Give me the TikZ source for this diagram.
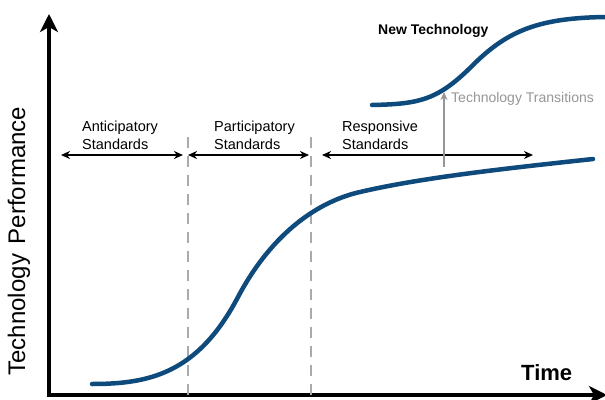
\documentclass[tikz,border=0pt]{standalone}
\usepackage{fontspec}
\setmainfont{Liberation Sans}
\usetikzlibrary{arrows.meta}
\definecolor{curveblue}{RGB}{14,74,124}
\definecolor{dashgray}{RGB}{170,170,170}
\definecolor{transgray}{RGB}{150,150,150}
\begin{document}
\begin{tikzpicture}[x=1pt,y=-1pt,
  axis/.style={line width=4.5pt, line join=miter, {Stealth[length=18pt,width=18pt,inset=5pt]}-{Stealth[length=18pt,width=18pt,inset=5pt]}},
  scurve/.style={curveblue, line width=4.5pt, line cap=round},
  divider/.style={dashgray, line width=2.2pt, dash pattern=on 11pt off 8pt},
  span/.style={line width=1.8pt, {Stealth[length=9pt,width=8pt]}-{Stealth[length=9pt,width=8pt]}},
  lbl/.style={font=\fontsize{14.5}{18}\selectfont, align=left, inner sep=0pt, anchor=west},
  trans/.style={transgray, line width=2pt, -{Stealth[length=8pt,width=7pt]}},
]
\useasboundingbox (0,0) rectangle (605,399);
\fill[white] (0,0) rectangle (605,399);
% axes
\coordinate (O) at (49,395);
\coordinate (ytop) at (49,14);
\coordinate (xend) at (607,395);
\draw[axis] (ytop) -- (O) -- (xend);
\node[rotate=90, font=\fontsize{24}{28}\selectfont, inner sep=0pt] (ylab) at (19,241) {Technology\hspace{10pt}Performance};
\node[font=\bfseries\fontsize{22}{26}\selectfont, inner sep=0pt, anchor=west] (time) at (521,373) {Time};
% dividers
\coordinate (d1t) at (188,137); \coordinate (d1b) at (188,395);
\coordinate (d2t) at (311,137); \coordinate (d2b) at (311,395);
\draw[divider] (d1t) -- (d1b);
\draw[divider] (d2t) -- (d2b);
% spans
\coordinate (a1) at (61,155); \coordinate (a2) at (183,155);
\coordinate (p1) at (188,155); \coordinate (p2) at (309,155);
\coordinate (r1) at (322,155); \coordinate (r2) at (533,155);
\draw[span] (a1) -- (a2);
\draw[span] (p1) -- (p2);
\draw[span] (r1) -- (r2);
\node[lbl] (ant) at (82,135) {Anticipatory\\Standards};
\node[lbl] (par) at (214,135) {Participatory\\Standards};
\node[lbl] (res) at (342,135) {Responsive\\Standards};
% curves
\draw[scurve] (92,384) .. controls (150,384) and (198,373) .. (238,297)
  .. controls (273,231) and (320,201) .. (360,192)
  .. controls (420,178) and (500,169) .. (593,159);
\draw[scurve] (372,105) .. controls (420,104) and (438,100) .. (473,65)
  .. controls (508,30) and (540,18) .. (605,17);
\node[font=\bfseries\fontsize{14}{17}\selectfont, inner sep=0pt, anchor=west] (newt) at (378,31) {New Technology};
% transition
\coordinate (tb) at (444,167);
\coordinate (tt) at (444,92);
\draw[trans] (tb) -- (tt);
\node[font=\fontsize{14}{17}\selectfont, text=transgray, inner sep=0pt, anchor=west] (tlab) at (451,99) {Technology Transitions};
\end{tikzpicture}
\end{document}
